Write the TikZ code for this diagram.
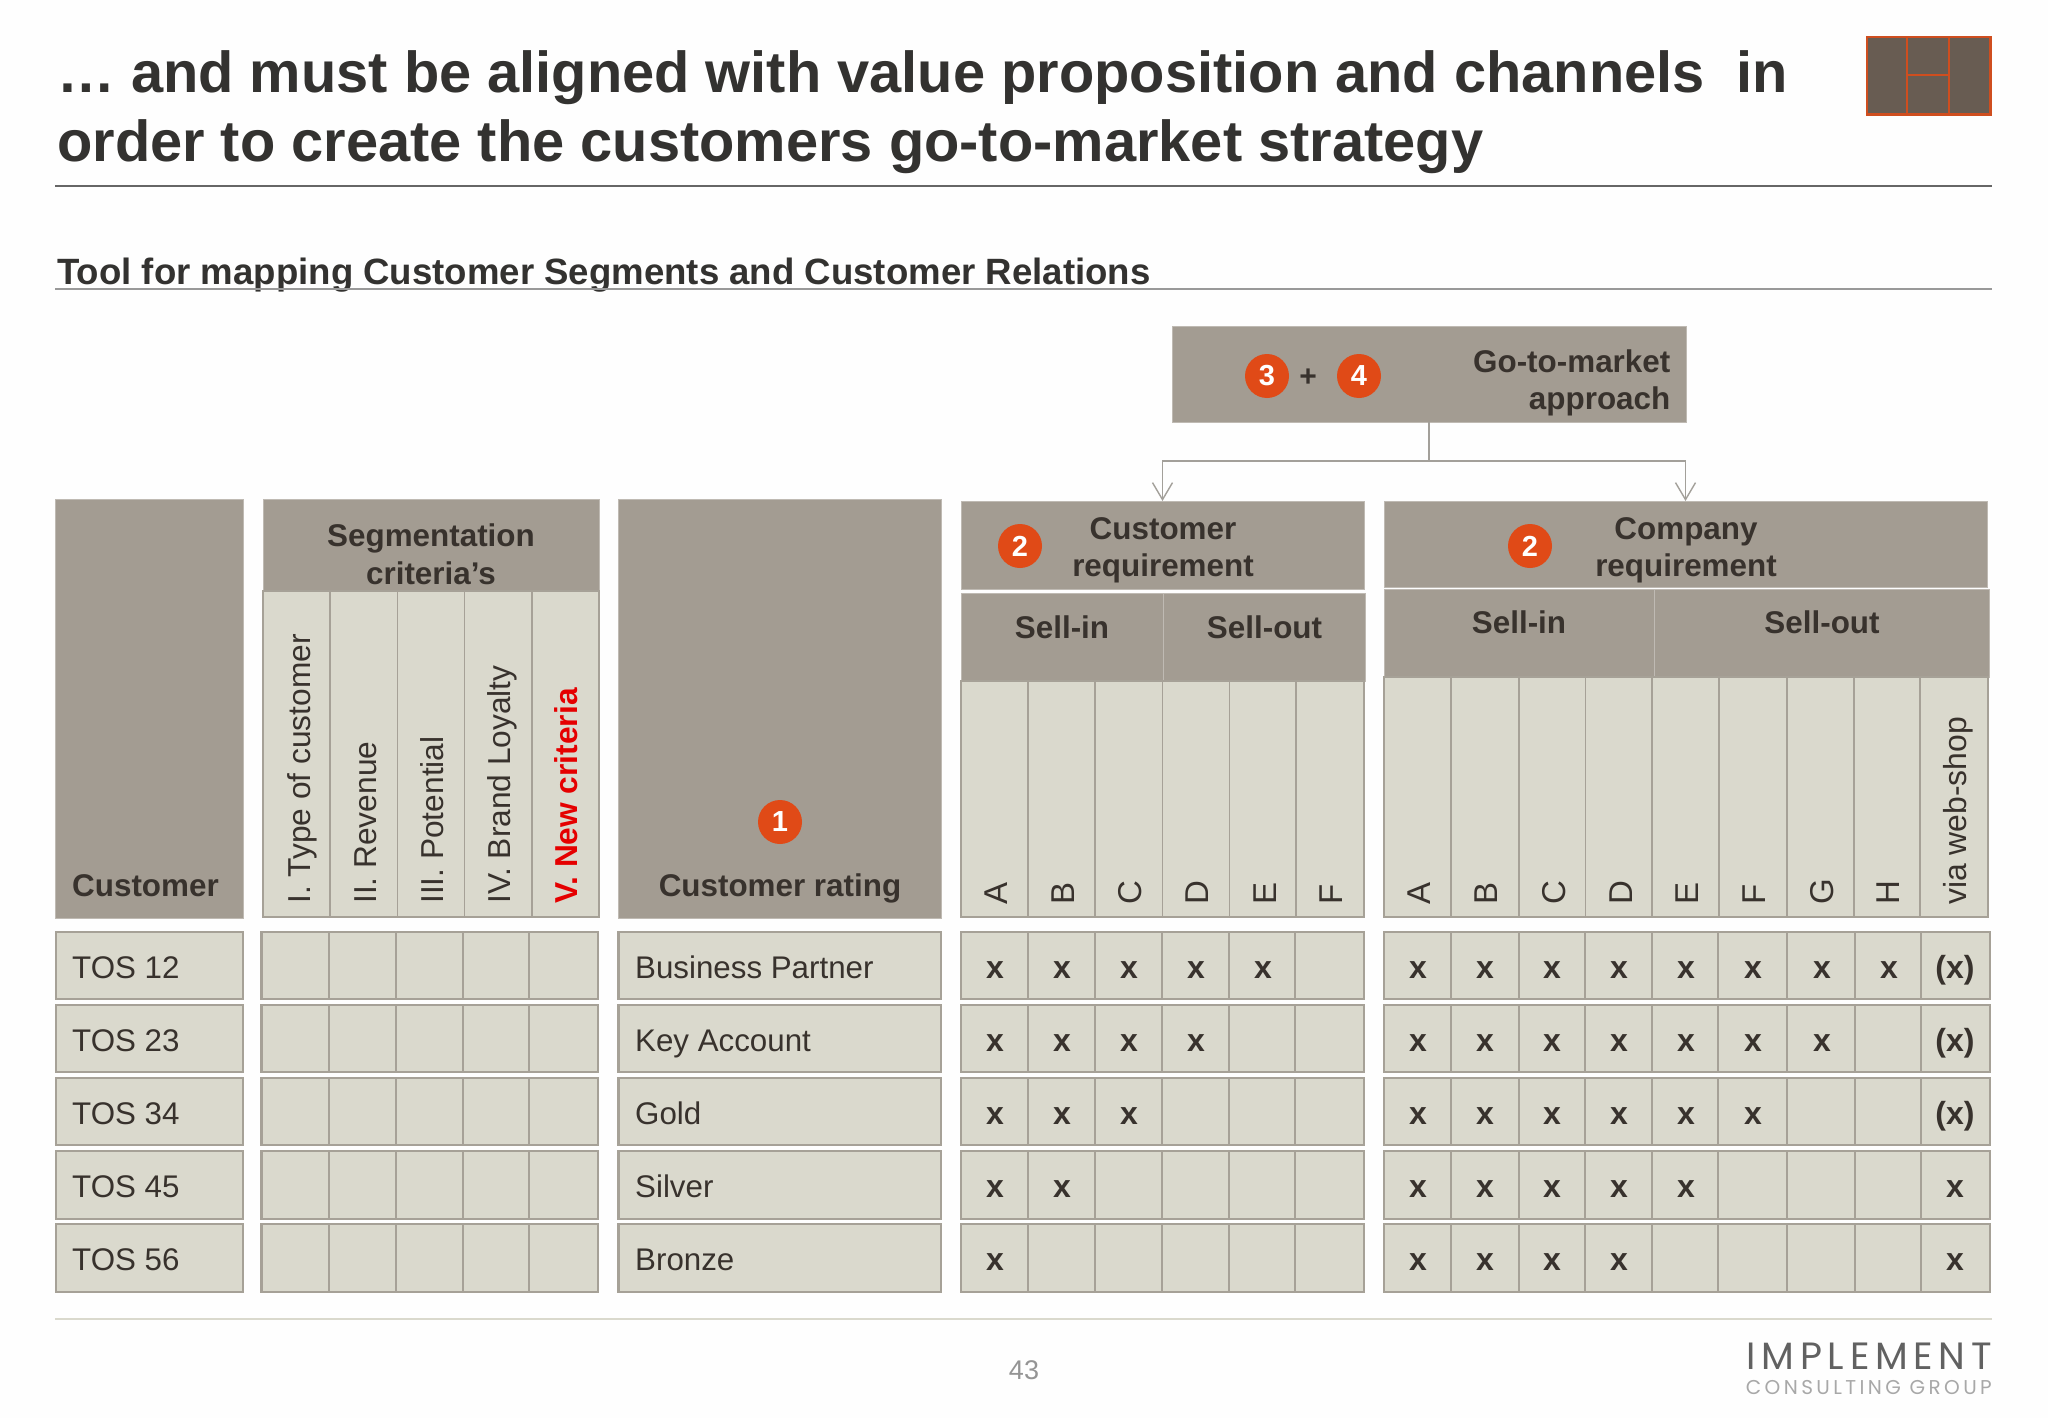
\documentclass[tikz,border=0pt]{standalone}
\usepackage{fontspec}
\setmainfont{Liberation Sans}
\newfontfamily\logofont{Poppins}
\usetikzlibrary{arrows.meta}
\definecolor{hdr}{HTML}{A39C92}
\definecolor{cell}{HTML}{DAD9CD}
\definecolor{edge}{HTML}{A6A197}
\definecolor{ink}{HTML}{38322D}
\definecolor{badge}{HTML}{E04A17}
\definecolor{titleink}{HTML}{333230}
\definecolor{markfill}{HTML}{685C52}
\definecolor{markline}{HTML}{CF4E1F}
\definecolor{connc}{HTML}{A3A09A}
\newcommand\fsz[2]{\fontsize{#1}{#2}\selectfont}
\newcommand\boxn[7]{%
  \pgfmathsetmacro\bw{#4-#2}\pgfmathsetmacro\bh{#5-#3}%
  \pgfmathsetmacro\bx{(#2+#4)/2}\pgfmathsetmacro\by{(#3+#5)/2}%
  \node[#6,minimum width=\bw pt,minimum height=\bh pt] (#1) at (\bx,\by) {#7};}
\tikzset{
  x=1pt,y=-1pt,
  hbox/.style={fill=hdr,draw=hdr!70!white,line width=1pt,inner sep=0pt,outer sep=0pt},
  cbox/.style={fill=cell,draw=edge,line width=2.2pt,inner sep=0pt,outer sep=0pt},
  colbox/.style={fill=cell,draw=edge,line width=1.8pt,inner sep=0pt,outer sep=0pt},
  mbox/.style={fill=markfill,draw=markline,line width=2.8pt,inner sep=0pt},
  lab/.style={font=\fsz{31.4}{37.5}\bfseries,text=ink,inner sep=0pt,align=center},
  rowtxt/.style={font=\fsz{31.3}{38},text=ink,inner sep=0pt,anchor=base west},
  vert/.style={font=\fsz{31.7}{38},text=ink,inner sep=0pt,rotate=90,anchor=base west},
  mark x/.style={font=\fsz{32}{38}\bfseries,text=ink,inner sep=0pt,anchor=base},
  badgecirc/.style={circle,fill=badge,text=white,font=\fsz{29}{30}\bfseries,inner sep=0pt,minimum size=44pt},
  conn/.style={draw=connc,line width=1.8pt},
}
\begin{document}
\begin{tikzpicture}
\useasboundingbox (0,0) rectangle (2048,1418);
\fill[white!99.5!black] (0,0) rectangle (2048,1418);
% title
\node[font=\fsz{57.8}{70}\bfseries,text=titleink,anchor=base west,inner sep=0pt,align=left] (title1) at (57,92.5) {… and must be aligned with value proposition and channels\ \ in};
\node[font=\fsz{57.8}{70}\bfseries,text=titleink,anchor=base west,inner sep=0pt] (title2) at (57,161) {order to create the customers go-to-market strategy};
\draw[line width=2.4pt,draw=black!60] (55,186) -- (1992,186);
% logo mark
\boxn{lg1}{1867}{37}{1907}{114.5}{mbox}{}
\boxn{lg2}{1907}{37}{1949}{75}{mbox}{}
\boxn{lg3}{1907}{75}{1949}{114.5}{mbox}{}
\boxn{lg4}{1949}{37}{1990.5}{114.5}{mbox}{}
% subtitle
\node[font=\fsz{36.6}{40}\bfseries,text=titleink,anchor=base west,inner sep=0pt] (subtitle) at (57,284) {Tool for mapping Customer Segments and Customer Relations};
\draw[line width=1.4pt,draw=black!40] (55,289) -- (1992,289);
% go-to-market box
\boxn{gtm}{1172}{326}{1686}{422}{hbox}{}
\node[badgecirc] (b3) at (1267,376) {3};
\node[font=\fsz{30}{30}\bfseries,text=ink,inner sep=0pt] (plus) at (1308,378) {+};
\node[badgecirc] (b4) at (1359,376) {4};
\node[lab,align=right,anchor=east] (gtmtxt) at (1670.5,383) {Go-to-market\\approach};
% big header columns
\boxn{hcust}{55.5}{499.5}{243}{918}{hbox}{}
\node[lab,anchor=base west] (tcust) at (72,896) {Customer};
\boxn{hseg}{263}{499.5}{599}{591}{hbox}{}
\node[lab] (tseg) at (431,554.5) {Segmentation\\criteria’s};
\foreach \a/\b/\n in {263/330/1,330/397.5/2,397.5/464.5/3,464.5/532/4,532/599/5}{
  \boxn{sc\n}{\a}{591}{\b}{917}{colbox}{}
}
\node[vert] (v1) at (310,904) {I. Type of customer};
\node[vert] (v2) at (376,904) {II. Revenue};
\node[vert] (v3) at (443,904) {III. Potential};
\node[vert] (v4) at (510.5,904) {IV. Brand Loyalty};
\node[vert,font=\fsz{31.7}{38}\bfseries,text=red!90!black] (v5) at (577,904) {V. New criteria};
\boxn{hrate}{618.5}{499.5}{941}{918}{hbox}{}
\node[lab,anchor=base] (trate) at (780,896) {Customer rating};
\node[badgecirc] (b1) at (780,822) {1};
% customer requirement
\boxn{custreq}{961}{501}{1364}{589}{hbox}{}
\node[lab] (tcr) at (1163,550.5) {Customer\\requirement};
\node[badgecirc] (b2a) at (1020,546) {2};
\boxn{crin}{961}{593}{1163}{681}{hbox}{}
\boxn{crout}{1163}{593}{1365}{681}{hbox}{}
\node[lab,anchor=base] (tcrin) at (1062,638) {Sell-in};
\node[lab,anchor=base] (tcrout) at (1264.5,638) {Sell-out};
\foreach \a/\b/\n/\t/\base in {961/1028/1/A/1007,1028/1095/2/B/1074,1095/1162.5/3/C/1141,1162.5/1229.5/4/D/1208,1229.5/1296/5/E/1276,1296/1364/6/F/1342.5}{
  \boxn{crc\n}{\a}{681}{\b}{917}{colbox}{}
  \node[vert,font=\fsz{33}{38}] (crl\n) at (\base,905) {\t};
}
% company requirement
\boxn{compreq}{1384}{501}{1987}{587}{hbox}{}
\node[lab] (tcp) at (1686,550.5) {Company\\requirement};
\node[badgecirc] (b2b) at (1530,546) {2};
\boxn{cpin}{1384}{589}{1654}{677}{hbox}{}
\boxn{cpout}{1654}{589}{1989}{677}{hbox}{}
\node[lab,anchor=base] (tcpin) at (1519,633) {Sell-in};
\node[lab,anchor=base] (tcpout) at (1822,633) {Sell-out};
\foreach \a/\b/\n/\t/\base in {1384/1451/1/A/1430,1451/1519/2/B/1497,1519/1585.5/3/C/1565,1585.5/1652/4/D/1632,1652/1719/5/E/1698,1719/1787/6/F/1765,1787/1854/7/G/1833,1854/1920/8/H/1899}{
  \boxn{cpc\n}{\a}{677}{\b}{917}{colbox}{}
  \node[vert,font=\fsz{33}{38}] (cpl\n) at (\base,905) {\t};
}
\boxn{cpc9}{1920}{677}{1988}{917}{colbox}{}
\node[vert,font=\fsz{31.9}{38}] (cpl9) at (1966,905) {via web-shop};
% connectors
\coordinate (jrow) at (0,461);
\coordinate (jct) at (gtm.south |- jrow);
\draw[conn] (gtm.south) -- (jct);
\draw[conn,-{Straight Barb[length=17pt,width=20pt,line width=1.4pt]}] (jct) -| (custreq.north);
\draw[conn,-{Straight Barb[length=17pt,width=20pt,line width=1.4pt]}] (jct) -| (compreq.north);
% rows
\foreach \t/\b/\r/\lbl/\rate/\base in {932/999/1/TOS 12/Business Partner/978,1005/1072/2/TOS 23/Key Account/1051,1078/1145/3/TOS 34/Gold/1124,1151/1219/4/TOS 45/Silver/1197,1224/1292/5/TOS 56/Bronze/1270}{
  \boxn{rc\r}{56}{\t}{243}{\b}{cbox}{}
  \node[rowtxt] (rl\r) at (72,\base) {\lbl};
  \foreach \x/\y/\c in {261.5/329/1,329/395.6/2,395.6/463/3,463/529/4,529/598/5}{
    \boxn{sg\r-\c}{\x}{\t}{\y}{\b}{cbox}{}
  }
  \boxn{rr\r}{618.5}{\t}{941}{\b}{cbox}{}
  \node[rowtxt] (rt\r) at (635,\base) {\rate};
  \foreach \x/\y/\c in {961/1028/1,1028/1095/2,1095/1162/3,1162/1229/4,1229/1295/5,1295/1364/6}{
    \boxn{ca\r-\c}{\x}{\t}{\y}{\b}{cbox}{}
  }
  \foreach \x/\y/\c in {1384/1451/1,1451/1519/2,1519/1585/3,1585/1652/4,1652/1718/5,1718/1787/6,1787/1855/7,1855/1921/8,1921/1990/9}{
    \boxn{cb\r-\c}{\x}{\t}{\y}{\b}{cbox}{}
  }
}
% x marks
\foreach \x in {995,1062,1129,1196,1263,1418,1485,1552,1619,1686,1753,1822,1889}{\node[mark x] (ma\x) at (\x,978) {x};}
\foreach \x in {995,1062,1129,1196,1418,1485,1552,1619,1686,1753,1822}{\node[mark x] (mb\x) at (\x,1051) {x};}
\foreach \x in {995,1062,1129,1418,1485,1552,1619,1686,1753}{\node[mark x] (mc\x) at (\x,1124) {x};}
\foreach \x in {995,1062,1418,1485,1552,1619,1686}{\node[mark x] (md\x) at (\x,1197) {x};}
\foreach \x in {995,1418,1485,1552,1619}{\node[mark x] (me\x) at (\x,1270) {x};}
\node[mark x] (pa) at (1955,978) {(x)};
\node[mark x] (pb) at (1955,1051) {(x)};
\node[mark x] (pc) at (1955,1124) {(x)};
\node[mark x] (pd) at (1955,1197) {x};
\node[mark x] (pe) at (1955,1270) {x};
% footer
\draw[line width=2pt,draw=cell] (55,1319) -- (1992,1319);
\node[font=\fsz{27}{30},text=black!42,anchor=base,inner sep=0pt] (pageno) at (1024,1379) {43};
\node[font={\logofont\fsz{38}{40}\addfontfeature{LetterSpace=15}},text=black!62,anchor=base east,inner sep=0pt] (logo1) at (1992,1369) {IMPLEMENT};
\node[font={\logofont\fsz{20}{24}\addfontfeature{LetterSpace=17}},text=black!34,anchor=base east,inner sep=0pt] (logo2) at (1992,1394) {CONSULTING GROUP};
\end{tikzpicture}
\end{document}
